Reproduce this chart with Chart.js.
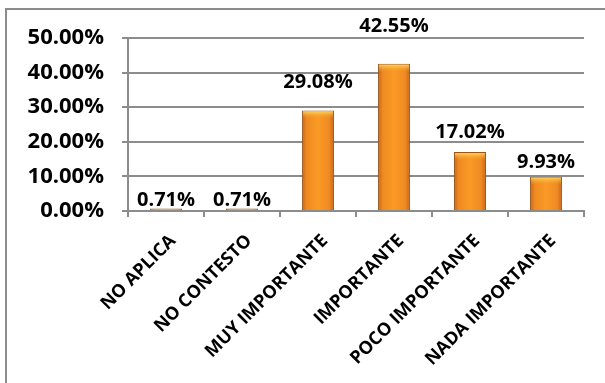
<!DOCTYPE html>
<html>
<head>
<meta charset="utf-8">
<script src="https://cdn.jsdelivr.net/npm/chart.js@4/dist/chart.umd.min.js"></script>
<style>
  html, body { margin: 0; padding: 0; background: #fff; }
  #wrap { width: 605px; height: 383px; }
</style>
</head>
<body>
<div id="wrap"><canvas id="grafico" width="605" height="383"></canvas></div>
<script>
// datos
const categorias = ['NO APLICA', 'NO CONTESTO', 'MUY IMPORTANTE', 'IMPORTANTE', 'POCO IMPORTANTE', 'NADA IMPORTANTE'];
const porcentajes = [0.71, 0.71, 29.08, 42.55, 17.02, 9.93];
const ticksY = [0, 10, 20, 30, 40, 50];

const fuente = '"Open Sans", Roboto, sans-serif';
const gris = '#8c8c8c';

// marco del grafico (solo arriba e izquierda se ven en la imagen)
const marco = {
    id: 'marco',
    beforeDraw(chart) {
        const c = chart.ctx;
        c.save();
        c.fillStyle = '#fff';
        c.fillRect(0, 0, chart.width, chart.height);
        c.strokeStyle = gris;
        c.lineWidth = 2;
        c.beginPath();
        c.moveTo(6, chart.height);
        c.lineTo(6, 9);
        c.lineTo(chart.width, 9);
        c.stroke();
        c.restore();
    }
};

// tapa amarilla de cada barra, etiquetas de valor y etiquetas del eje x
const extras = {
    id: 'extras',
    afterDatasetsDraw(chart) {
        const c = chart.ctx;
        const meta = chart.getDatasetMeta(0);
        const y = chart.scales.y;
        const xs = chart.scales.x;
        c.save();
        meta.data.forEach((bar, i) => {
            const w = bar.width;
            const x0 = bar.x - w / 2;
            const alto = Math.min(8, bar.base - bar.y);
            if (alto > 2) {
                const g = c.createLinearGradient(0, bar.y, 0, bar.y + alto);
                g.addColorStop(0, '#ffe16b');
                g.addColorStop(1, 'rgba(248,160,40,0)');
                c.fillStyle = g;
                c.fillRect(x0 + 1, bar.y + 1, w - 2, alto);
            }
            const v = porcentajes[i];
            c.fillStyle = '#000';
            c.font = 'bold 20px ' + fuente;
            c.textAlign = 'center';
            c.textBaseline = 'middle';
            c.fillText(v.toFixed(2) + '%', bar.x, y.getPixelForValue(v * 1.2 + 2.2));
        });
        // etiquetas rotadas 45 grados, terminan junto al centro de cada categoria
        categorias.forEach((txt, i) => {
            c.save();
            c.translate(xs.getPixelForValue(i) + 7, xs.top + 27);
            c.rotate(-Math.PI / 4);
            c.fillStyle = '#000';
            c.font = 'bold 18px ' + fuente;
            c.textAlign = 'right';
            c.textBaseline = 'middle';
            c.fillText(txt, 0, 0);
            c.restore();
        });
        c.restore();
    }
};

function degradado(ctx) {
    const chart = ctx.chart;
    const xs = chart.scales.x;
    if (!xs || !chart.chartArea) return '#f7941e';
    const cx = xs.getPixelForValue(ctx.dataIndex);
    const medio = (chart.chartArea.right - chart.chartArea.left) / categorias.length * 0.42 / 2;
    const g = chart.ctx.createLinearGradient(cx - medio, 0, cx + medio, 0);
    g.addColorStop(0, '#c4651a');
    g.addColorStop(0.15, '#ef8a22');
    g.addColorStop(0.5, '#fa9a26');
    g.addColorStop(0.85, '#ef8a22');
    g.addColorStop(1, '#c4651a');
    return g;
}

new Chart(document.getElementById('grafico'), {
    type: 'bar',
    data: {
        labels: categorias,
        datasets: [{
            data: porcentajes,
            backgroundColor: degradado,
            borderColor: '#9a5416',
            borderWidth: 1,
            categoryPercentage: 1,
            barPercentage: 0.42
        }]
    },
    plugins: [marco, extras],
    options: {
        responsive: false,
        animation: false,
        layout: { padding: { top: 38, right: 21, left: 0, bottom: 0 } },
        plugins: {
            legend: { display: false },
            tooltip: { enabled: false }
        },
        scales: {
            y: {
                min: 0,
                max: 50,
                afterFit(s) { s.width = 128; },
                afterBuildTicks(s) { s.ticks = ticksY.map(v => ({ value: v })); },
                border: { color: gris, width: 2 },
                grid: { color: gris, lineWidth: 2, tickLength: 6 },
                ticks: {
                    color: '#000',
                    padding: 18,
                    font: { family: fuente, size: 22, weight: 'bold' },
                    callback: v => v.toFixed(2) + '%'
                }
            },
            x: {
                afterFit(s) { s.height = 172; },
                border: { color: gris, width: 2 },
                grid: { color: gris, lineWidth: 2, drawOnChartArea: false, tickLength: 6 },
                ticks: { display: false }
            }
        }
    }
});
</script>
</body>
</html>
